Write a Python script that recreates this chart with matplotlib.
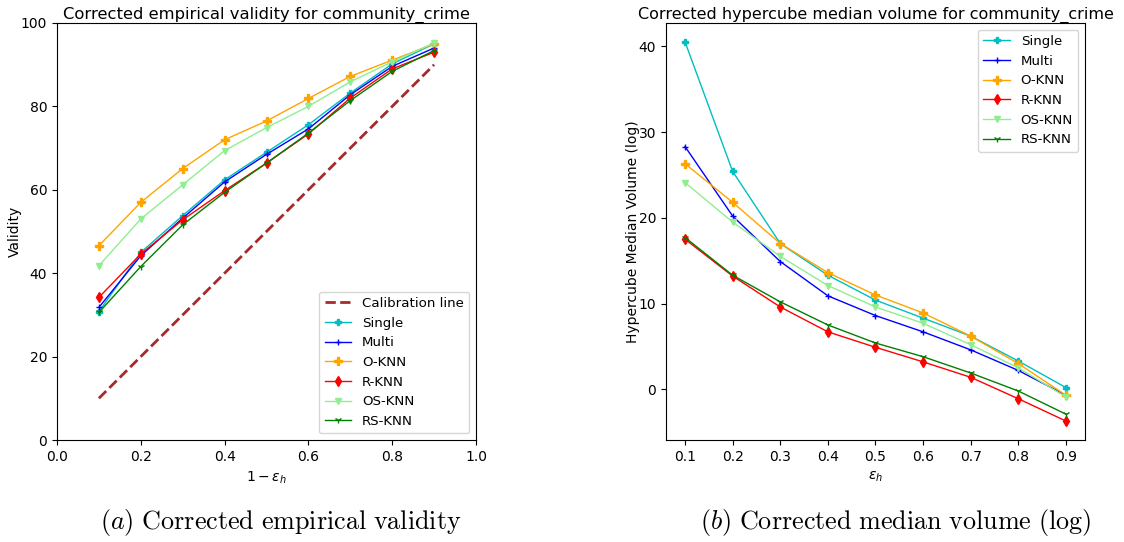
import matplotlib
matplotlib.use("Agg")
import matplotlib.pyplot as plt

eps = [0.1, 0.2, 0.3, 0.4, 0.5, 0.6, 0.7, 0.8, 0.9]
methods = ["Single", "Multi", "O-KNN", "R-KNN", "OS-KNN", "RS-KNN"]

# left panel: corrected empirical validity (x = 1 - eps_h)
validity_single = [30.8, 45.0, 53.8, 62.4, 69.0, 75.6, 83.2, 90.2, 95.0]
validity_multi = [31.8, 44.2, 53.2, 61.9, 68.5, 74.6, 82.8, 89.6, 94.0]
validity_oknn = [46.6, 57.0, 65.1, 72.0, 76.5, 81.9, 87.2, 91.1, 95.0]
validity_rknn = [34.2, 44.6, 52.8, 59.8, 66.4, 73.4, 82.0, 89.0, 93.0]
validity_osknn = [41.8, 53.0, 61.2, 69.4, 74.9, 80.0, 85.9, 90.7, 95.2]
validity_rsknn = [30.6, 41.6, 51.6, 59.4, 66.4, 73.6, 81.4, 88.4, 93.4]
calibration = [10, 20, 30, 40, 50, 60, 70, 80, 90]

# right panel: corrected hypercube median volume (log)
volume_single = [40.5, 25.4, 17.0, 13.3, 10.4, 8.3, 6.2, 3.3, 0.2]
volume_multi = [28.3, 20.2, 14.9, 10.9, 8.6, 6.7, 4.6, 2.2, -0.7]
volume_oknn = [26.3, 21.8, 17.0, 13.6, 11.0, 8.9, 6.2, 3.0, -0.7]
volume_rknn = [17.5, 13.2, 9.6, 6.7, 4.9, 3.2, 1.4, -1.1, -3.7]
volume_osknn = [24.1, 19.5, 15.5, 12.1, 9.6, 7.7, 5.2, 2.5, -0.9]
volume_rsknn = [17.7, 13.3, 10.2, 7.5, 5.4, 3.8, 1.9, -0.2, -2.9]

styles = {
    "Single": dict(color="c", marker="P", ms=5),
    "Multi": dict(color="blue", marker="+", ms=5),
    "O-KNN": dict(color="orange", marker="P", ms=6),
    "R-KNN": dict(color="red", marker="d", ms=5),
    "OS-KNN": dict(color="lightgreen", marker="v", ms=5),
    "RS-KNN": dict(color="green", marker="1", ms=5),
}

validity = [validity_single, validity_multi, validity_oknn, validity_rknn, validity_osknn, validity_rsknn]
volume = [volume_single, volume_multi, volume_oknn, volume_rknn, volume_osknn, volume_rsknn]

fig = plt.figure(figsize=(11.24, 5.42), dpi=100)
ax1 = fig.add_axes([57 / 1124, 1 - 440 / 542, 419 / 1124, 417 / 542])
ax2 = fig.add_axes([666 / 1124, 1 - 440 / 542, 419 / 1124, 417 / 542])

ax1.plot(eps, calibration, "--", color="brown", lw=2, label="Calibration line")
for name, vals in zip(methods, validity):
    ax1.plot(eps, vals, lw=1, label=name, **styles[name])
ax1.set_xlim(0, 1)
ax1.set_ylim(0, 100)
ax1.set_xlabel(r"$1-\epsilon_h$", fontsize=10)
ax1.set_ylabel("Validity", fontsize=10, labelpad=-1)
ax1.set_title("Corrected empirical validity for community_crime", fontsize=11.8, pad=3)
ax1.legend(loc="lower right", fontsize=9.6)

for name, vals in zip(methods, volume):
    ax2.plot(eps, vals, lw=1, label=name, **styles[name])
ax2.set_xticks(eps)
ax2.set_xlabel(r"$\epsilon_h$", fontsize=10)
ax2.set_ylabel("Hypercube Median Volume (log)", fontsize=10, labelpad=-1)
ax2.set_title("Corrected hypercube median volume for community_crime", fontsize=11.5, pad=3)
ax2.legend(loc="upper right", fontsize=9.6)

for ax in (ax1, ax2):
    ax.tick_params(labelsize=10)

fig.text(281 / 1124, 1 - 522 / 542, r"$(a)\ \mathrm{Corrected\ empirical\ validity}$",
         ha="center", va="center", fontsize=18.8, math_fontfamily="cm")
fig.text(896 / 1124, 1 - 522 / 542, r"$(b)\ \mathrm{Corrected\ median\ volume\ (log)}$",
         ha="center", va="center", fontsize=18.8, math_fontfamily="cm")

fig.savefig("out.png", dpi=100)
